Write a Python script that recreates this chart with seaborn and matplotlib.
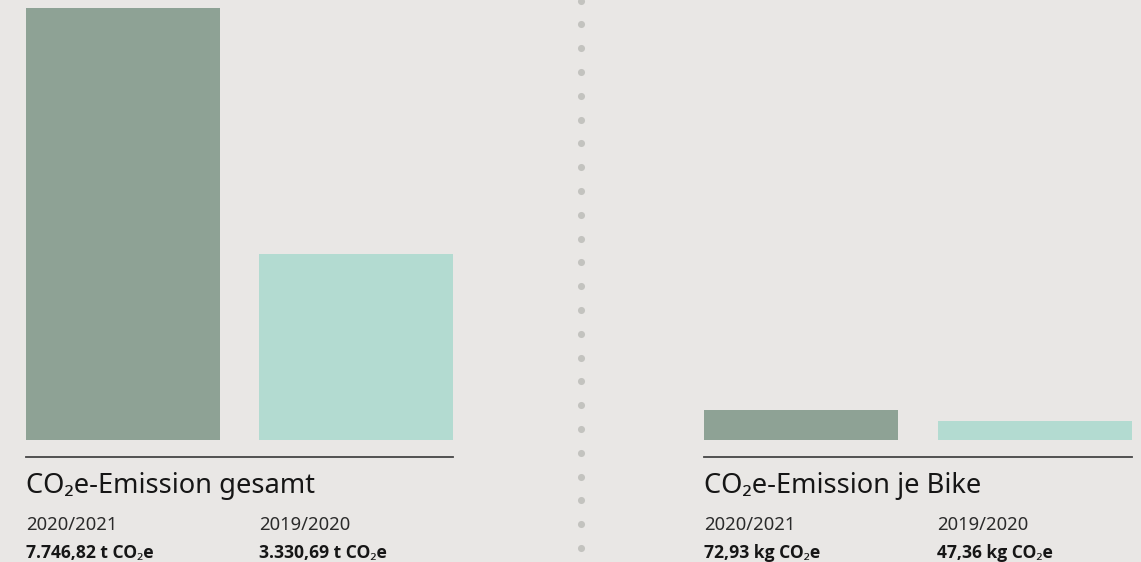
import matplotlib
matplotlib.use("Agg")
import matplotlib.pyplot as plt
import seaborn as sns
import pandas as pd

# ---- data ----
periods = ["2020/2021", "2019/2020"]
total_t = [7746.82, 3330.69]
per_bike_kg = [72.93, 47.36]
titles = ["CO\u2082e-Emission gesamt", "CO\u2082e-Emission je Bike"]
units = ["t CO\u2082e", "kg CO\u2082e"]
colors = ["#8ea295", "#b3dbd1"]

BG = "#e9e7e5"
W, H = 1141, 562

sns.set_theme(style="white")
plt.rcParams["font.family"] = ["Noto Sans", "DejaVu Sans"]

fig = plt.figure(figsize=(W / 100, H / 100), dpi=100, facecolor=BG)


def de_fmt(v):
    s = f"{v:,.2f}"
    return s.replace(",", "X").replace(".", ",").replace("X", ".")


def px_axes(x0, x1, y_top, y_bot):
    return fig.add_axes([x0 / W, 1 - y_bot / H, (x1 - x0) / W, (y_bot - y_top) / H])


panels = [
    dict(x0=26, x1=453, vals=total_t, ymax=max(total_t), unit=units[0], title=titles[0]),
    dict(x0=704, x1=1132, vals=per_bike_kg, ymax=1085, unit=units[1], title=titles[1]),
]

bar_w = 194 / 233
for p in panels:
    ax = px_axes(p["x0"], p["x1"], 8, 439.5)
    ax.set_facecolor(BG)
    df = pd.DataFrame({"period": periods, "value": p["vals"]})
    sns.barplot(data=df, x="period", y="value", hue="period", palette=colors,
                width=bar_w, legend=False, ax=ax, saturation=1, linewidth=0)
    ax.set_xlim(-bar_w / 2, 1 + bar_w / 2)
    ax.set_ylim(0, p["ymax"])
    ax.set_xticks([])
    ax.set_yticks([])
    ax.set_xlabel("")
    ax.set_ylabel("")
    for s in ["top", "left", "right"]:
        ax.spines[s].set_visible(False)
    ax.spines["bottom"].set_position(("outward", 12.6))
    ax.spines["bottom"].set_color("#454545")
    ax.spines["bottom"].set_linewidth(1.3)

    # texts
    col2 = p["x0"] + 233
    fig.text(p["x0"] / W, 1 - 493 / H, p["title"], fontsize=19.6, color="#161616",
             ha="left", va="baseline")
    for i, xx in enumerate([p["x0"], col2]):
        fig.text(xx / W, 1 - 530.5 / H, periods[i], fontsize=13.3, color="#2b2b2b",
                 fontweight="light", ha="left", va="baseline")
        fig.text(xx / W, 1 - 558.5 / H, f"{de_fmt(p['vals'][i])} {p['unit']}",
                 fontsize=12.6, color="#161616", fontweight="bold",
                 family=["Open Sans", "Noto Sans", "DejaVu Sans"],
                 ha="left", va="baseline")

# dotted divider (decoration) on a full-figure overlay axes
ov = fig.add_axes([0, 0, 1, 1], zorder=-1)
ov.set_xlim(0, W)
ov.set_ylim(H, 0)
ov.axis("off")
ov.patch.set_alpha(0)
dot_y = [0.5 + 23.8 * k for k in range(24)]
ov.scatter([580.7] * len(dot_y), dot_y, s=26, color="#c3c3bf", linewidths=0)

fig.savefig("out.png", dpi=100, facecolor=BG)
